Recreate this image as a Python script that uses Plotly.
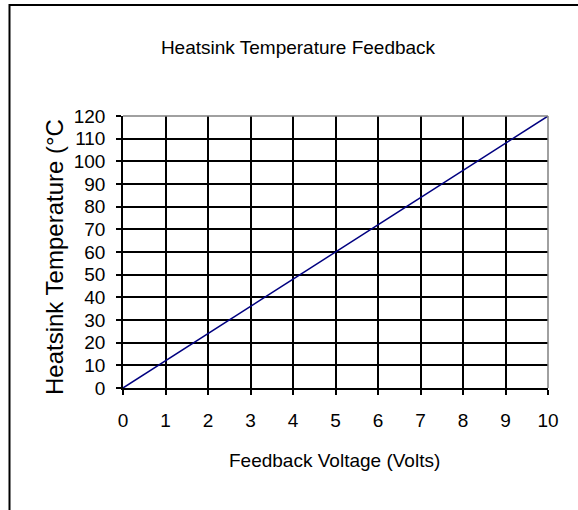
import plotly.graph_objects as go

# Data
voltage = [0, 1, 2, 3, 4, 5, 6, 7, 8, 9, 10]
temperature = [0, 12, 24, 36, 48, 60, 72, 84, 96, 108, 120]

x_ticks = [0, 1, 2, 3, 4, 5, 6, 7, 8, 9, 10]
y_ticks = [0, 10, 20, 30, 40, 50, 60, 70, 80, 90, 100, 110, 120]

chart_title = "Heatsink Temperature Feedback"
x_title = "Feedback Voltage (Volts)"
y_title = "Heatsink Temperature (°C"

FONT = "Arial, Liberation Sans, sans-serif"
FS = 19
FS_Y = 24

W, H = 578, 510
L, R, T, B = 123, 30, 116, 122
pw = W - L - R
ph = H - T - B


def px_x(x):
    return (x - L) / pw


def px_y(y):
    return (H - B - y) / ph


fig = go.Figure()
fig.add_trace(go.Scatter(
    x=voltage, y=temperature, mode="lines",
    line=dict(color="#000080", width=1.5),
    hoverinfo="skip", showlegend=False,
))

fig.update_layout(
    width=W, height=H,
    margin=dict(l=L, r=R, t=T, b=B, pad=0),
    paper_bgcolor="white", plot_bgcolor="white",
    font=dict(family=FONT, size=FS, color="black"),
    title=dict(text=chart_title, x=298 / W, xanchor="center",
               y=1 - 47 / H, yanchor="middle",
               font=dict(family=FONT, size=FS, color="black")),
    xaxis=dict(range=[0, 10], tickvals=x_ticks, ticktext=[str(v) for v in x_ticks],
               showgrid=True, gridcolor="black", gridwidth=1.5,
               showline=True, linecolor="black", linewidth=1.5,
               ticks="outside", ticklen=5, tickwidth=1.5, tickcolor="black",
               ticklabelstandoff=9,
               zeroline=False, tickfont=dict(size=FS)),
    yaxis=dict(range=[0, 120], tickvals=y_ticks, ticktext=[str(v) for v in y_ticks],
               showgrid=True, gridcolor="black", gridwidth=1.5,
               showline=True, linecolor="black", linewidth=1.5,
               ticks="outside", ticklen=5, tickwidth=1.5, tickcolor="black",
               ticklabelstandoff=7,
               zeroline=False, tickfont=dict(size=FS)),
    annotations=[
        dict(text=x_title, xref="paper", yref="paper",
             x=px_x(334), y=px_y(460), xanchor="center", yanchor="middle",
             showarrow=False, font=dict(family=FONT, size=FS, color="black")),
        dict(text=y_title, xref="paper", yref="paper",
             x=px_x(54), y=px_y(257), xanchor="center", yanchor="middle",
             textangle=-90,
             showarrow=False, font=dict(family=FONT, size=FS_Y, color="black")),
    ],
    shapes=[
        # gray plot-area border on top and right
        dict(type="line", xref="paper", yref="paper", x0=0, x1=1, y0=1, y1=1,
             line=dict(color="#808080", width=1.5), layer="above"),
        dict(type="line", xref="paper", yref="paper", x0=1, x1=1, y0=0, y1=1,
             line=dict(color="#808080", width=1.5), layer="above"),
        # outer chart border (right and bottom edges lie outside the view)
        dict(type="rect", xref="paper", yref="paper",
             x0=px_x(9.5), x1=px_x(582), y0=px_y(520), y1=px_y(5),
             line=dict(color="black", width=2), fillcolor="rgba(0,0,0,0)",
             layer="above"),
    ],
)

fig.write_html("out.html", config={"displayModeBar": False},
               post_script="document.body.style.margin='0';")
